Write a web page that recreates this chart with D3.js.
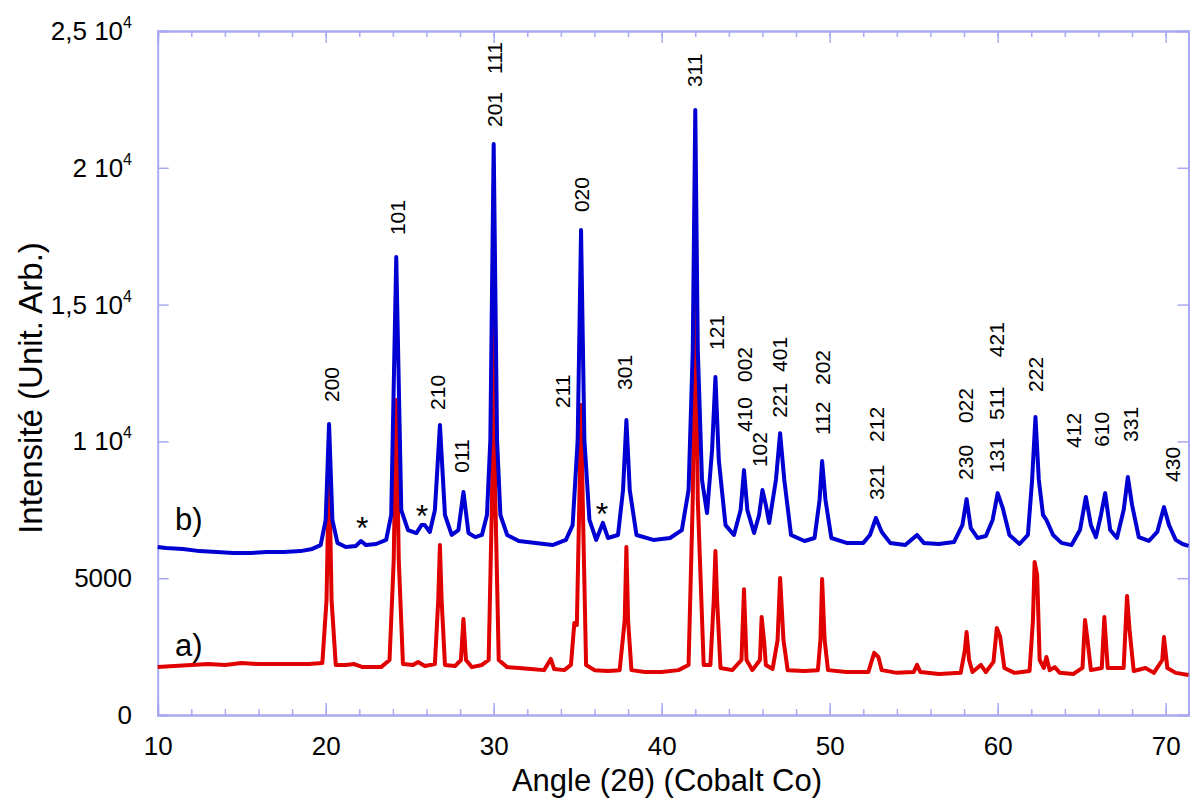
<!DOCTYPE html>
<html><head><meta charset="utf-8">
<script src="https://cdn.jsdelivr.net/npm/d3@7"></script>
<style>html,body{margin:0;padding:0;background:#fff;}svg{display:block;font-family:"Liberation Sans",Arial,sans-serif;}</style>
</head><body>
<svg id="chart" width="1190" height="800"></svg>
<script>
// ---------- DATA ----------
const xTicks = [10, 20, 30, 40, 50, 60, 70];
const yTicks = [0, 5000, 10000, 15000, 20000, 25000];
const yTickLabels = [["0", ""], ["5000", ""], ["1 10", "4"], ["1,5 10", "4"], ["2 10", "4"], ["2,5 10", "4"]];

// series b) (blue)
const angleB = [10.0,10.5,11.5,12.5,13.5,14.5,15.5,16.5,17.5,18.5,19.2,19.7,20.0,20.2,20.4,20.7,21.2,21.8,22.1,22.4,23.0,23.6,23.9,24.2,24.5,24.9,25.4,25.7,25.9,26.2,26.5,26.8,27.1,27.5,27.9,28.2,28.5,28.9,29.3,29.6,29.8,30.0,30.2,30.4,30.8,31.5,32.5,33.5,34.3,34.7,35.0,35.2,35.4,35.7,36.1,36.5,36.8,37.4,37.7,37.9,38.1,38.5,39.5,40.5,41.2,41.6,41.85,42.0,42.15,42.4,42.7,43.0,43.2,43.4,43.8,44.3,44.7,44.9,45.1,45.5,45.8,46.0,46.2,46.4,46.8,47.05,47.3,47.7,48.5,49.1,49.4,49.55,49.75,50.1,51.0,52.0,52.4,52.75,53.1,53.6,54.5,55.2,55.6,56.5,57.4,57.9,58.15,58.4,58.8,59.3,59.7,60.0,60.3,60.7,61.3,61.8,62.05,62.25,62.45,62.7,62.9,63.3,63.8,64.4,64.9,65.25,65.55,65.85,66.15,66.4,66.7,67.1,67.5,67.75,68.0,68.4,69.0,69.5,69.9,70.2,70.6,71.0,71.36];
const intensityB = [6140,6100,6070,5990,5960,5920,5920,5960,5960,5990,6070,6210,7130,10640,7130,6290,6140,6180,6360,6210,6250,6400,7310,16740,7490,6760,6650,6940,6940,6690,7490,10600,7310,6580,6760,8150,6650,6500,6580,7310,10050,20870,10050,7310,6580,6360,6290,6210,6400,6940,10050,17730,10050,7130,6400,7020,6470,6580,8220,10780,8220,6580,6400,6470,6760,8220,13340,22110,13340,8590,7380,9690,12350,9320,6940,6580,7490,8950,7490,6650,7310,8220,7680,7020,8590,10300,8590,6580,6360,6470,7860,9280,7860,6470,6290,6290,6580,7200,6690,6290,6210,6580,6290,6250,6320,6940,7890,6830,6470,6540,7130,8110,7570,6580,6250,6580,8590,10890,8590,7310,7130,6580,6290,6210,6760,7970,6940,6500,7310,8110,6760,6470,7490,8700,7680,6500,6360,6690,7600,6940,6400,6250,6180];

// series a) (red)
const angleA = [10.0,11.0,12.0,13.0,14.0,15.0,16.0,17.0,18.0,19.0,19.8,20.05,20.2,20.35,20.6,21.2,21.7,22.2,22.7,23.3,23.8,24.05,24.2,24.35,24.6,25.2,25.5,25.9,26.5,26.7,26.8,26.9,27.1,27.7,28.05,28.2,28.35,28.7,29.3,29.7,29.9,30.0,30.1,30.3,30.8,31.5,32.2,33.0,33.4,33.6,34.2,34.6,34.8,34.95,35.1,35.2,35.3,35.5,36.0,36.8,37.5,37.8,37.9,38.0,38.2,39.0,40.0,41.0,41.6,41.85,42.0,42.15,42.5,42.9,43.1,43.2,43.3,43.5,44.2,44.75,44.9,45.05,45.4,45.85,45.95,46.1,46.2,46.6,46.9,47.05,47.25,47.5,48.5,49.3,49.45,49.55,49.7,49.9,51.0,52.3,52.65,52.9,53.1,54.0,55.0,55.2,55.4,56.5,57.8,58.05,58.15,58.3,58.5,59.0,59.3,59.75,59.95,60.15,60.4,61.0,61.9,62.1,62.2,62.35,62.5,62.75,62.9,63.1,63.4,63.7,64.5,65.05,65.2,65.35,65.55,66.2,66.35,66.55,67.5,67.7,67.85,68.1,68.8,69.3,69.8,69.9,70.1,70.6,71.36];
const intensityA = [1750,1790,1830,1860,1830,1900,1860,1860,1860,1860,1900,4200,9320,4200,1830,1830,1860,1750,1750,1750,2010,5670,11510,5670,1860,1830,1940,1790,1860,4200,6210,4200,1830,1790,2010,3510,2010,1750,1830,2010,7860,14800,7860,2010,1750,1720,1680,1640,2050,1680,1640,1830,3360,3290,7860,11330,7860,1830,1640,1610,1640,3470,6140,3470,1640,1570,1570,1640,1830,7860,15720,7860,1830,1830,4200,5990,4200,1720,1640,2010,4600,2010,1640,2010,3580,2670,1830,1680,2740,5010,2740,1640,1610,1640,2740,4970,2740,1640,1570,1570,2270,2120,1640,1540,1570,1830,1570,1500,1540,2380,3030,2010,1570,1830,1570,1940,3180,2850,1720,1540,1610,3470,5590,5120,2010,1720,2120,1640,1750,1540,1500,1720,3470,2740,1640,1720,3580,1720,1720,4350,3110,1610,1720,1540,2010,2850,1720,1540,1460];

// peak (hkl) labels: text, angle, intensity at label start
const peakLabelText  = ["200","101","210","011","201","111","211","020","301","311","121","410","002","102","221","401","112","202","321","212","230","022","131","511","421","222","412","610","331","430"];
const peakLabelAngle = [20.37,24.3,26.69,28.11,30.08,30.08,34.13,35.26,37.82,41.98,43.29,44.96,44.96,45.85,47.04,47.04,49.6,49.6,52.81,52.81,58.11,58.11,59.96,59.96,59.96,62.28,64.54,66.21,67.93,70.43];
const peakLabelValue = [11440,17540,11150,8850,21490,23430,11220,18380,11880,22950,13340,10340,12170,9060,10860,12540,10230,12060,7860,9980,8590,10670,8850,10780,13080,11810,9760,9800,9980,8520];

// impurity markers (*)
const starAngle = [22.18, 25.73, 36.45];
const starValue = [7090, 7530, 7570];

const seriesNames = ["a)", "b)"];
const seriesNameValue = [2150, 6750];

// ---------- CHART ----------
const svg = d3.select("#chart");
const axisColor = "#a9a9f2";
const x = d3.scaleLinear().domain([10, 71.36]).range([157.7, 1188.5]);
const y = d3.scaleLinear().domain([0, 25000]).range([715, 31]);

const minorX = d3.range(10, 72, 2);

// bottom axis
const gB = svg.append("g").attr("transform", `translate(0,${y(0)})`);
gB.call(d3.axisBottom(x).tickValues(minorX).tickSize(-6).tickFormat(""));
const gB2 = svg.append("g").attr("transform", `translate(0,${y(0)})`);
gB2.call(d3.axisBottom(x).tickValues(xTicks).tickSize(-12).tickFormat(d3.format("d")).tickPadding(22));
// top axis
const gT = svg.append("g").attr("transform", `translate(0,${y(25000)})`);
gT.call(d3.axisTop(x).tickValues(minorX).tickSize(-6).tickFormat(""));
const gT2 = svg.append("g").attr("transform", `translate(0,${y(25000)})`);
gT2.call(d3.axisTop(x).tickValues(xTicks).tickSize(-12).tickFormat(""));
// left axis
const gL = svg.append("g").attr("transform", `translate(${x(10)},0)`);
gL.call(d3.axisLeft(y).tickValues(yTicks).tickSize(-11).tickFormat(""));
// right axis
const gR = svg.append("g").attr("transform", `translate(${x.range()[1]},0)`);
gR.call(d3.axisRight(y).tickValues(yTicks).tickSize(-11).tickFormat(""));

[gB, gB2, gT, gT2, gL, gR].forEach(g => {
  g.select(".domain").attr("stroke", axisColor).attr("stroke-width", 2);
  g.selectAll(".tick line").attr("stroke", axisColor).attr("stroke-width", 1.5);
});
gB2.selectAll(".tick text").attr("fill", "#000").attr("font-size", 26)
  .attr("font-family", '"Liberation Sans",Arial,sans-serif');

// y tick labels with superscript
const yl = svg.append("g");
yTicks.forEach((v, i) => {
  const t = yl.append("text").attr("x", 132).attr("y", y(v) + 9)
    .attr("text-anchor", "end").attr("font-size", 26).attr("fill", "#000");
  t.append("tspan").text(yTickLabels[i][0]);
  if (yTickLabels[i][1]) t.append("tspan").attr("dy", -12).attr("font-size", 16).text(yTickLabels[i][1]);
});

// lines
const line = d3.line().x(d => x(d[0])).y(d => y(d[1]));
const dataA = angleA.map((a, i) => [a, intensityA[i]]);
const dataB = angleB.map((a, i) => [a, intensityB[i]]);
svg.append("path").datum(dataA).attr("d", line).attr("fill", "none")
  .attr("stroke", "#e00000").attr("stroke-width", 4).attr("stroke-linejoin", "round");
svg.append("path").datum(dataB).attr("d", line).attr("fill", "none")
  .attr("stroke", "#0000d2").attr("stroke-width", 4).attr("stroke-linejoin", "round");

// peak labels
const lg = svg.append("g");
peakLabelText.forEach((t, i) => {
  const px = x(peakLabelAngle[i]), py = y(peakLabelValue[i]);
  lg.append("text").attr("transform", `translate(${px},${py}) rotate(-90)`)
    .attr("dy", "0.35em").attr("font-size", 21).attr("fill", "#000").text(t);
});
// stars
starAngle.forEach((a, i) => {
  svg.append("text").attr("x", x(a)).attr("y", y(starValue[i])).attr("dy", "0.55em")
    .attr("text-anchor", "middle").attr("font-size", 32).attr("fill", "#000").text("*");
});
// series names
seriesNames.forEach((n, i) => {
  svg.append("text").attr("x", 175).attr("y", y(seriesNameValue[i]))
    .attr("font-size", 31).attr("fill", "#000").text(n);
});

// axis titles
svg.append("text").attr("x", 667).attr("y", 791).attr("text-anchor", "middle")
  .attr("font-size", 31).attr("fill", "#000").text("Angle (2θ) (Cobalt Co)");
svg.append("text").attr("transform", "translate(42,388) rotate(-90)").attr("text-anchor", "middle")
  .attr("font-size", 33).attr("fill", "#000").text("Intensité (Unit. Arb.)");
</script>
</body></html>
